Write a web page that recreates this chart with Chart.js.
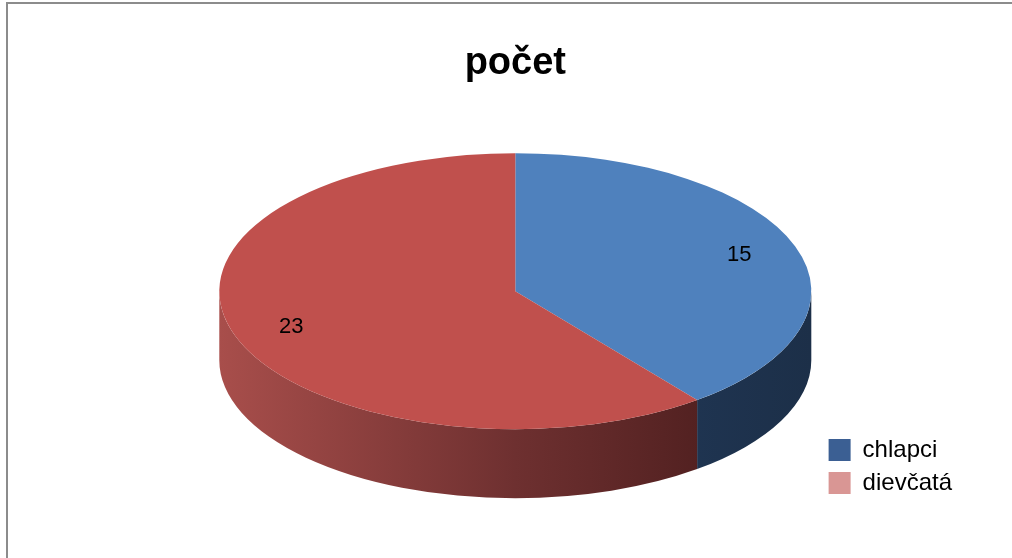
<!DOCTYPE html>
<html>
<head>
<meta charset="utf-8">
<title>počet</title>
<script src="https://cdn.jsdelivr.net/npm/chart.js@4.4.1/dist/chart.umd.min.js"></script>
<style>
  html, body { margin: 0; padding: 0; background: #fff; }
  #wrap { position: relative; width: 1012px; height: 558px; overflow: hidden; }
  #frame { position: absolute; left: 6px; top: 2px; width: 1100px; height: 700px;
           border-left: 2px solid #8c8c8c; border-top: 2px solid #8c8c8c; }
  #chart { position: absolute; left: 0; top: 0; }
</style>
</head>
<body>
<div id="wrap">
  <div id="frame"></div>
  <canvas id="chart" width="1012" height="558"></canvas>
</div>
<script>
const chartTitle = 'počet';
const labels = ['chlapci', 'dievčatá'];
const counts = [15, 23];
const sliceColors = ['#4f81bd', '#c0504d'];
const legendColors = ['#3b5f93', '#d99694'];
// side wall shading, left -> middle -> right
const wallColors = [
    ['#2c4a73', '#233c5e', '#1c2f48'],
    ['#a84e4b', '#6e3030', '#421818']
];

// look of the tilted pie (half width, half height, thickness)
const RX = 296, RY = 138, DEPTH = 69;
const LABEL_POS = 0.8;

// Draw the visible front part of the pie's rim for every slice
function drawWalls(ctx, arcs) {
    arcs.forEach((arc, i) => {
        const cx = arc.x, cy = arc.y;
        const grad = ctx.createLinearGradient(cx - RX, 0, cx + RX, 0);
        grad.addColorStop(0, wallColors[i][0]);
        grad.addColorStop(0.5, wallColors[i][1]);
        grad.addColorStop(1, wallColors[i][2]);
        for (let k = -1; k <= 1; k++) {
            const a = Math.max(arc.startAngle, 2 * Math.PI * k);
            const b = Math.min(arc.endAngle, 2 * Math.PI * k + Math.PI);
            if (b <= a) continue;
            ctx.beginPath();
            ctx.ellipse(cx, cy, RX, RY, 0, a, b, false);
            ctx.ellipse(cx, cy + DEPTH, RX, RY, 0, b, a, true);
            ctx.closePath();
            ctx.fillStyle = grad;
            ctx.fill();
        }
    });
}

const pie3d = {
    id: 'pie3d',
    beforeDatasetsDraw(chart) {
        const ctx = chart.ctx;
        const arcs = chart.getDatasetMeta(0).data;
        const {x, y, outerRadius} = arcs[0];
        drawWalls(ctx, arcs);
        // squash the flat pie into the top face
        ctx.save();
        ctx.translate(x, y);
        ctx.scale(RX / outerRadius, RY / outerRadius);
        ctx.translate(-x, -y);
    },
    afterDatasetsDraw(chart) {
        const ctx = chart.ctx;
        ctx.restore();
        // value labels
        const arcs = chart.getDatasetMeta(0).data;
        ctx.save();
        ctx.font = '22px "Liberation Sans", Arial, sans-serif';
        ctx.fillStyle = '#000';
        ctx.textAlign = 'center';
        ctx.textBaseline = 'middle';
        arcs.forEach((arc, i) => {
            const mid = (arc.startAngle + arc.endAngle) / 2;
            const lx = arc.x + RX * LABEL_POS * Math.cos(mid);
            const ly = arc.y + RY * LABEL_POS * Math.sin(mid);
            ctx.fillText(String(counts[i]), lx, ly);
        });
        ctx.restore();
    }
};

new Chart(document.getElementById('chart'), {
    type: 'pie',
    data: {
        labels: labels,
        datasets: [{
            data: counts,
            backgroundColor: sliceColors,
            borderWidth: 0,
            clip: false
        }]
    },
    options: {
        responsive: false,
        animation: false,
        events: [],
        layout: { padding: { left: 211, right: 50, top: 0, bottom: 54 } },
        plugins: {
            title: {
                display: true,
                text: chartTitle,
                fullSize: false,
                color: '#000',
                font: { family: '"Liberation Sans", Arial, sans-serif', size: 38, weight: 'bold', lineHeight: 0.8 },
                padding: { top: 48, bottom: 0 }
            },
            legend: {
                position: 'right',
                align: 'end',
                labels: {
                    color: '#000',
                    font: { family: '"Liberation Sans", Arial, sans-serif', size: 24 },
                    boxWidth: 22,
                    boxHeight: 22,
                    padding: 9,
                    generateLabels: () => labels.map((text, i) => ({
                        text: text,
                        fillStyle: legendColors[i],
                        strokeStyle: legendColors[i],
                        lineWidth: 0,
                        hidden: false,
                        index: i
                    }))
                }
            },
            tooltip: { enabled: false }
        }
    },
    plugins: [pie3d]
});
</script>
</body>
</html>
